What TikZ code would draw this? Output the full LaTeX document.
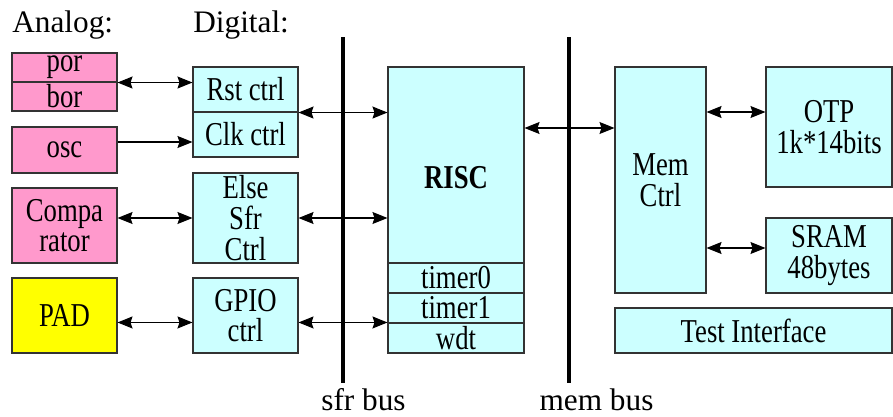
\documentclass[tikz,border=0pt]{standalone}
\usepackage{fontspec}
\setmainfont{Liberation Serif}
\newfontfamily\blockfont[FakeStretch=0.8]{Liberation Serif}
\usepackage{xcolor}
\usepackage{tikz}
\usetikzlibrary{arrows.meta,calc,positioning}
\definecolor{AnaPink}{HTML}{FF99CC}
\definecolor{DigCyan}{HTML}{CCFFFF}
\definecolor{PadYellow}{HTML}{FFFF00}
\definecolor{Edge}{HTML}{333333}

\begin{document}
\begin{tikzpicture}[
  blk/.style={draw=Edge,line width=0.6pt,minimum width=2.10cm,align=center,inner sep=0pt,
    font=\blockfont\fontsize{19}{17.5}\selectfont},
  ana/.style={blk,fill=AnaPink},
  dig/.style={blk,fill=DigCyan},
  pad/.style={blk,fill=PadYellow},
  lbl/.style={font=\fontsize{17.8}{20}\selectfont,inner sep=0pt},
  bus/.style={line width=1.8pt},
  arr/.style={{Stealth[length=0.30cm,width=0.24cm,inset=0.04cm]}-{Stealth[length=0.30cm,width=0.24cm,inset=0.04cm]},line width=0.6pt},
  oarr/.style={-{Stealth[length=0.30cm,width=0.24cm,inset=0.04cm]},line width=0.6pt}
]
\useasboundingbox (0,0) rectangle (17.86,-8.34);

\node[lbl,anchor=base west] (analog) at (0.24,-0.64) {Analog:};
\node[lbl,anchor=base west] (digital) at (3.86,-0.64) {Digital:};

% buses
\coordinate (sfrtop) at (6.86,-0.74);
\coordinate (sfrbot) at (6.86,-7.66);
\coordinate (memtop) at (11.38,-0.74);
\coordinate (membot) at (11.38,-7.66);
\draw[bus] (sfrtop) -- (sfrbot);
\draw[bus] (memtop) -- (membot);
\node[lbl,anchor=base] (sfrlbl) at (7.27,-8.20) {sfr bus};
\node[lbl,anchor=base] (memlbl) at (11.93,-8.20) {mem bus};

% analog side
\node[ana,minimum height=0.58cm] (por) at (1.29,-1.35) {por};
\node[ana,minimum height=0.58cm] (bor) at (1.29,-1.93) {bor};
\node[ana,minimum height=0.92cm] (osc) at (1.29,-3.00) {osc};
\node[ana,minimum height=1.50cm] (comp) at (1.29,-4.51) {Compa\\rator};
\node[pad,minimum height=1.50cm] (padio) at (1.29,-6.31) {PAD};

% digital side
\node[dig,minimum height=0.90cm] (rst) at (4.91,-1.79) {Rst ctrl};
\node[dig,minimum height=0.90cm] (clk) at (4.91,-2.69) {Clk ctrl};
\node[dig,minimum height=1.80cm] (elsesfr) at (4.91,-4.36) {Else\\Sfr\\Ctrl};
\node[dig,minimum height=1.50cm] (gpio) at (4.91,-6.31) {GPIO\\ctrl};

% core
\node[dig,minimum width=2.72cm,minimum height=3.92cm] (risc) at (9.12,-3.30) {};
\node[font=\blockfont\bfseries\fontsize{19}{17.5}\selectfont] (risclbl) at (9.12,-3.55) {RISC};
\node[dig,minimum width=2.72cm,minimum height=0.60cm] (timer0) at (9.12,-5.56) {timer0};
\node[dig,minimum width=2.72cm,minimum height=0.60cm] (timer1) at (9.12,-6.16) {timer1};
\node[dig,minimum width=2.72cm,minimum height=0.60cm] (wdt) at (9.12,-6.76) {wdt};

% memory side
\node[dig,minimum width=1.82cm,minimum height=4.52cm] (mem) at (13.21,-3.60) {Mem\\Ctrl};
\node[dig,minimum width=2.52cm,minimum height=2.40cm] (otp) at (16.58,-2.54) {OTP\\1k*14bits};
\node[dig,minimum width=2.52cm,minimum height=1.50cm] (sram) at (16.58,-5.11) {SRAM\\48bytes};
\node[dig,minimum width=5.54cm,minimum height=0.90cm] (test) at (15.07,-6.61) {Test Interface};

\draw[arr] (por.south east) -- (rst.west |- por.south);
\draw[oarr] ($(osc.east)+(0,0.16)$) -- ($(clk.west |- osc.east)+(0,0.16)$);
\draw[arr] (comp.east |- elsesfr.west) -- (elsesfr.west);
\draw[arr] (padio.east |- wdt.north) -- (gpio.west |- wdt.north);

\draw[arr] (rst.south east) -- (risc.west |- rst.south);
\draw[arr] (elsesfr.east) -- (risc.west |- elsesfr.east);
\draw[arr] (gpio.east |- wdt.north) -- (wdt.north west);

\draw[arr] ($(risc.east)+(0,0.74)$) -- ($(mem.west |- risc.east)+(0,0.74)$);
\draw[arr] ($(mem.east |- otp.west)+(0,0.30)$) -- ($(otp.west)+(0,0.30)$);
\draw[arr] ($(mem.east |- sram.west)+(0,0.15)$) -- ($(sram.west)+(0,0.15)$);
\end{tikzpicture}
\end{document}
